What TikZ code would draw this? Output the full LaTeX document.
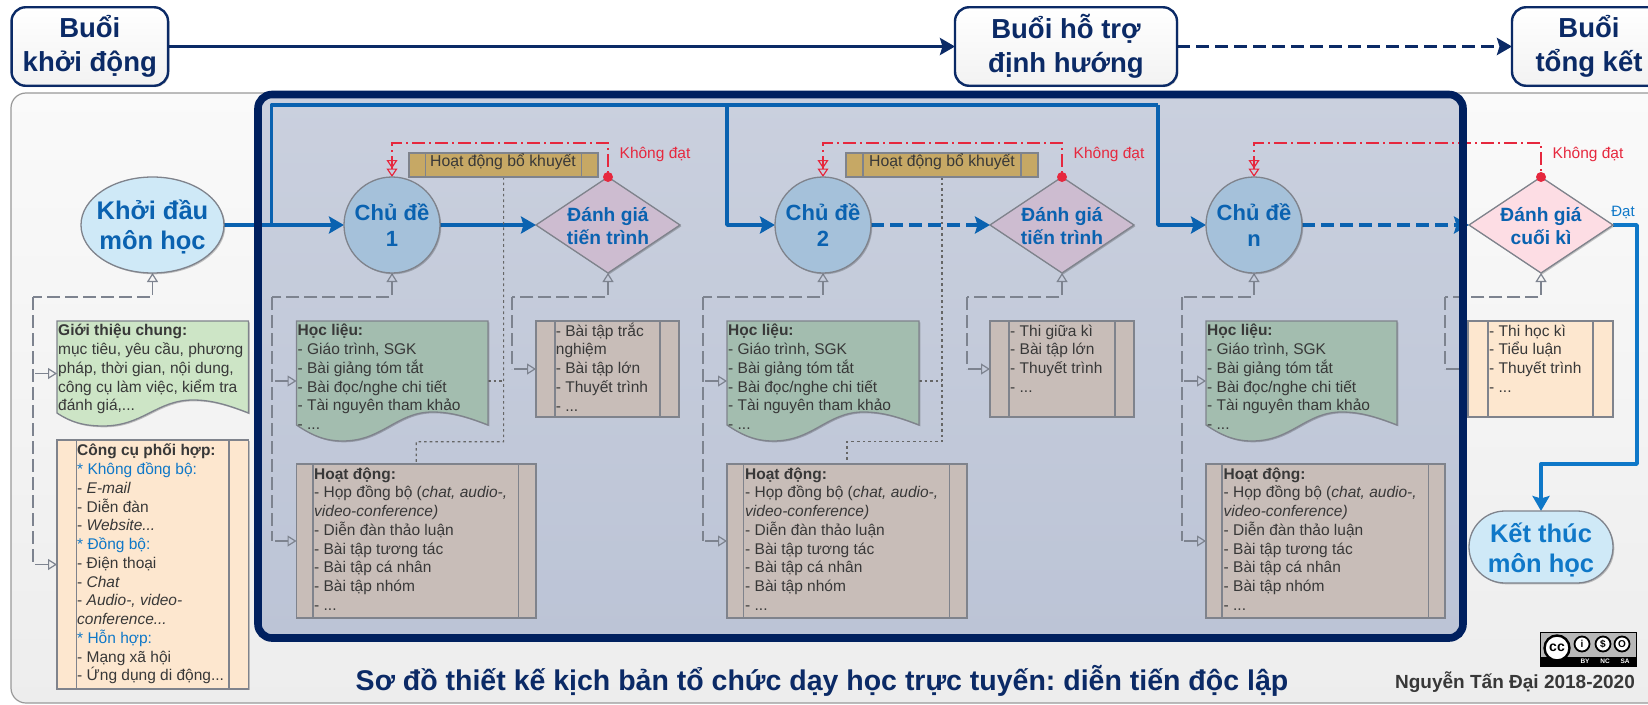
\documentclass[tikz,border=0pt]{standalone}
\usepackage{fontspec}
\setmainfont{Liberation Sans}
\frenchspacing
\usetikzlibrary{arrows.meta,shapes.geometric,shadows,calc}
\definecolor{navy}{HTML}{0B2A66}
\definecolor{framec}{HTML}{00205F}
\definecolor{frametop}{HTML}{CAD0DE}
\definecolor{framebot}{HTML}{BCC4D6}
\definecolor{mblue}{HTML}{0A62B0}
\definecolor{lblue}{HTML}{0F78C8}
\definecolor{txtc}{HTML}{383838}
\definecolor{graya}{HTML}{7D838F}
\definecolor{edgec}{HTML}{7F838C}
\definecolor{redc}{HTML}{E6283E}
\definecolor{fillbrown}{HTML}{C8BDB8}
\definecolor{fillorange}{HTML}{FDE7CF}
\definecolor{fillgreen}{HTML}{A3BDAF}
\definecolor{filllight}{HTML}{CDE5C6}
\definecolor{filltan}{HTML}{C6A865}
\definecolor{fillcirc}{HTML}{A5C1DA}
\definecolor{fillsky}{HTML}{CFE9F7}
\definecolor{fillpurp}{HTML}{CDBCD0}
\definecolor{fillpink}{HTML}{FDDDE4}
\pgfdeclarelayer{back}\pgfdeclarelayer{conn}\pgfdeclarelayer{frm}
\pgfsetlayers{back,conn,frm,main}
\newcommand\fstrut{\rule{0pt}{14pt}}
\newcommand\procb[8]{%
  \node[pbox,fill=#8,minimum width={(#4-#2)*1pt},minimum height={(#5-#3)*1pt}] (#1) at ({(#2+#4)/2},{(#3+#5)/2}) {};
  \draw[pline] (#6,#3)--(#6,#5) (#7,#3)--(#7,#5);}
% name,x1,y1,x2,edge y,fill,trough depth
\newcommand\docb[7]{%
  \pgfmathsetmacro\dw{#4-#2}
  \draw[nedge,fill=#6,sh] (#2,#3) -- (#4,#3) -- (#4,#5)
    .. controls ({#2+.88*\dw},{#5-9}) and ({#2+.8*\dw},{#5-13}) .. ({#2+.71*\dw},{#5-13})
    .. controls ({#2+.52*\dw},{#5-13}) and ({#2+.45*\dw},{#5+#7}) .. ({#2+.24*\dw},{#5+#7})
    .. controls ({#2+.14*\dw},{#5+#7}) and ({#2+.07*\dw},{#5+9}) .. (#2,#5) -- cycle;
  \node[inner sep=0pt,outer sep=0pt,minimum width={(#4-#2)*1pt},minimum height={(#5+#7-#3)*1pt}] (#1) at ({(#2+#4)/2},{(#3+#5+#7)/2}) {};}
% source, x of vertical, name of corner
\newcommand\gfeed[3]{%
  \coordinate (#3) at (#2,297);
  \begin{pgfonlayer}{conn}
  \draw[gline,opentip-] (#1.south) |- (#3);
  \end{pgfonlayer}}
\newcommand\gdown[2]{% corner, target
  \begin{pgfonlayer}{conn}
  \draw[gline] (#1) -- (#1 |- #2.west);
  \draw[gline,opentip-] (#2.west) -- (#1 |- #2.west);
  \end{pgfonlayer}}
\newcommand\gbranch[2]{%
  \begin{pgfonlayer}{conn}
  \draw[gline,opentip-] (#2.west) -- (#1 |- #2.west);
  \end{pgfonlayer}}
\newcommand\hoclieu[3]{%
  \node[txt] (#1) at (#2,#3) {\fstrut\textbf{Học liệu:}\\- Giáo trình, SGK\\- Bài giảng tóm tắt\\- Bài đọc/nghe chi tiết\\- Tài nguyên tham khảo\\- ...};}
\newcommand\hoatdong[3]{%
  \node[txt] (#1) at (#2,#3) {\fstrut\textbf{Hoạt động:}\\- Họp đồng bộ (\textit{chat, audio-,}\\\textit{video-conference)}\\- Diễn đàn thảo luận\\- Bài tập tương tác\\- Bài tập cá nhân\\- Bài tập nhóm\\- ...};}
\tikzset{
  x=1pt,y=-1pt,
  nedge/.style={draw=edgec,line width=1.3pt},
  sh/.style={drop shadow={shadow xshift=1.3pt,shadow yshift=-1.3pt,opacity=.22,fill=black}},
  pbox/.style={rectangle,nedge,inner sep=0pt,outer sep=0pt,sh},
  pline/.style={draw=edgec,line width=1.2pt},
  txt/.style={anchor=north west,inner sep=0pt,align=left,text=txtc,font=\fontsize{15.5}{18.75}\selectfont},
  topbox/.style={rectangle,draw=navy,line width=2.4pt,rounded corners=14pt,top color=white,bottom color=white!90!gray,inner sep=0pt,outer sep=0pt,text=navy,align=center,font=\bfseries\fontsize{27.5}{34}\selectfont,sh},
  circ/.style={circle,nedge,fill=fillcirc,minimum size=96pt,inner sep=0pt,outer sep=0pt,text=mblue,align=center,font=\bfseries\fontsize{22}{26.5}\selectfont,sh},
  dia/.style={diamond,nedge,minimum width=144pt,minimum height=96pt,inner sep=0pt,outer sep=0pt,sh},
  diat/.style={inner sep=0pt,align=center,text=mblue,font=\bfseries\fontsize{19.2}{23.4}\selectfont},
  bigt/.style={inner sep=0pt,align=center,text=mblue,font=\bfseries\fontsize{25.5}{30}\selectfont},
  bline/.style={draw=mblue,line width=3.6pt,line join=round},
  dsh/.style={dash pattern=on 12.5pt off 6.5pt},
  bhead/.style={-{Stealth[length=15pt,width=17pt,inset=2.5pt]}},
  gline/.style={draw=graya,line width=1.2pt,dash pattern=on 13pt off 5pt},
  opentip/.tip={Triangle[open,length=9pt,width=11pt,line width=1.2pt]},
  redtip/.tip={Triangle[open,length=8.5pt,width=11pt,line width=1.2pt,sep=0pt] Triangle[open,length=8.5pt,width=11pt,line width=1.2pt]},
  rline/.style={draw=redc,line width=1.1pt,dash pattern=on 13pt off 4pt on 2pt off 4pt},
  rdot/.style={circle,fill=redc,minimum size=10pt,inner sep=0pt,outer sep=0pt},
  dotl/.style={draw=black!60,line width=1.2pt,dash pattern=on 2.6pt off 3pt},
  redt/.style={inner sep=0pt,text=redc,font=\fontsize{15.5}{18}\selectfont},
}
\begin{document}
\begin{tikzpicture}
\frenchspacing
\useasboundingbox (0,0) rectangle (1648,704);
\clip (0,0) rectangle (1648,704);
\begin{pgfonlayer}{back}
  \fill[white] (0,0) rectangle (1648,704);
  \draw[draw=black!40,line width=1.2pt,rounded corners=15pt,top color=white!98!black,bottom color=white!93!black] (11,93) rectangle (1690,703);
  \fill[rounded corners=14pt,top color=frametop,bottom color=framebot] (258,94.5) rectangle (1463,638);
\end{pgfonlayer}
\begin{pgfonlayer}{frm}
  \draw[draw=framec,line width=7.6pt,rounded corners=14pt] (258,94.5) rectangle (1463,638);
\end{pgfonlayer}

% top row
\node[topbox,minimum width=156.5pt,minimum height=78.5pt] (b1) at (89.8,46.5) {Buổi\\khởi động};
\node[topbox,minimum width=222pt,minimum height=78.5pt] (b2) at (1066,46.5) {Buổi hỗ trợ\\định hướng};
\node[topbox,minimum width=160pt,minimum height=78.5pt] (b3) at (1592,46.5) {};
\node[inner sep=0pt,text=navy,align=center,font=\bfseries\fontsize{27.5}{34}\selectfont] (b3t) at (1589,46.5) {Buổi\\tổng kết};

% start / end
\node[ellipse,nedge,fill=fillsky,minimum width=143pt,minimum height=96pt,inner sep=0pt,outer sep=0pt,sh] (kd) at (152.5,225) {};
\node[bigt] (kdt) at (152.5,226.5) {Khởi đầu\\môn học};
\node[rectangle,nedge,fill=fillsky,rounded corners=36pt,minimum width=144pt,minimum height=72pt,inner sep=0pt,outer sep=0pt,sh] (kt) at (1541,547) {};
\node[bigt,text=lblue] (ktt) at (1541,550) {Kết thúc\\môn học};

% topics
\node[circ] (c1) at (392,225) {Chủ đề\\1};
\node[circ] (c2) at (823,225) {Chủ đề\\2};
\node[circ] (c3) at (1254,225) {Chủ đề\\n};

% diamonds
\node[dia,fill=fillpurp] (d1) at (608,225) {};
\node[diat] (d1t) at (608,226) {Đánh giá\\tiến trình};
\node[dia,fill=fillpurp] (d2) at (1062,225) {};
\node[diat] (d2t) at (1062,226) {Đánh giá\\tiến trình};
\node[dia,fill=fillpink] (d3) at (1541,225) {};
\node[diat] (d3t) at (1541,226) {Đánh giá\\cuối kì};

% remedial boxes
\procb{r1}{409}{153}{598}{177}{425.7}{581.7}{filltan}
\node[inner sep=0pt,text=txtc,font=\fontsize{15.8}{18}\selectfont] (r1t) at (503,162) {Hoạt động bổ khuyết};
\procb{r2}{846}{153}{1038}{177}{863}{1021}{filltan}
\node[inner sep=0pt,text=txtc,font=\fontsize{15.8}{18}\selectfont] (r2t) at (942,162) {Hoạt động bổ khuyết};

% documents
\docb{gt}{57}{321}{248.5}{413}{filllight}{13}
\node[txt] (gtt) at (58,321.7) {\fstrut\textbf{Giới thiệu chung:}\\mục tiêu, yêu cầu, phương\\pháp, thời gian, nội dung,\\công cụ làm việc, kiểm tra\\đánh giá,...};
\docb{hl1}{296.5}{321}{488}{425}{fillgreen}{16}
\hoclieu{hl1t}{297.5}{321.7}
\docb{hl2}{727}{321}{919}{425}{fillgreen}{16}
\hoclieu{hl2t}{728}{321.7}
\docb{hl3}{1206}{321}{1397}{425}{fillgreen}{16}
\hoclieu{hl3t}{1207}{321.7}

% process boxes
\procb{cc}{57}{440}{248.5}{689}{76.5}{229}{fillorange}
\node[txt] (cct) at (77,441.7) {\fstrut\textbf{Công cụ phối hợp:}\\\textcolor{lblue}{* Không đồng bộ:}\\- \textit{E-mail}\\- Diễn đàn\\- \textit{Website...}\\\textcolor{lblue}{* Đồng bộ:}\\- Điện thoại\\- \textit{Chat}\\- \textit{Audio-, video-}\\\textit{conference...}\\\textcolor{lblue}{* Hỗn hợp:}\\- Mạng xã hội\\- Ứng dụng di động...};
\procb{hd1}{296.5}{464}{536}{618}{313}{518.5}{fillbrown}
\hoatdong{hd1t}{314}{465}
\procb{hd2}{727}{464}{967}{618}{743.5}{949.5}{fillbrown}
\hoatdong{hd2t}{745}{465}
\procb{hd3}{1206}{464}{1445}{618}{1222}{1428.7}{fillbrown}
\hoatdong{hd3t}{1223.5}{465}
\procb{bt1}{536}{321}{679}{417}{555}{660}{fillbrown}
\node[txt] (bt1t) at (555.7,322) {\fstrut- Bài tập trắc\\nghiệm\\- Bài tập lớn\\- Thuyết trình\\- ...};
\procb{bt2}{990}{321}{1134}{417}{1009}{1115}{fillbrown}
\node[txt] (bt2t) at (1010,322) {\fstrut- Thi giữa kì\\- Bài tập lớn\\- Thuyết trình\\- ...};
\procb{bt3}{1468}{321}{1613}{417}{1488}{1593}{fillorange}
\node[txt] (bt3t) at (1489,322) {\fstrut- Thi học kì\\- Tiểu luận\\- Thuyết trình\\- ...};

% red dots and labels
\node[rdot] (rd1) at (d1.north) {};
\node[rdot] (rd2) at (d2.north) {};
\node[rdot] (rd3) at (d3.north) {};
\node[redt] (kd1) at (655,154) {Không đạt};
\node[redt] (kd2) at (1109,154) {Không đạt};
\node[redt] (kd3) at (1588,154) {Không đạt};
\node[inner sep=0pt,text=lblue,font=\fontsize{15}{18}\selectfont] (dat) at (1623,212) {Đạt};

% coordinates of bends
\coordinate (j1) at (271.5,225);
\coordinate (lt1) at (271.5,105);
\coordinate (lt2) at (727,105);
\coordinate (lt3) at (1158,105);
\coordinate (rl1) at (608,143);
\coordinate (rl2) at (1062,143);
\coordinate (rl3) at (1541,143);
\coordinate (e1) at (1637,225);
\coordinate (e2) at (1637,464);
\coordinate (e3) at (1541,464);
\coordinate (dt1) at (503.6,441.7);
\coordinate (dt2) at (942,441.7);
\coordinate (dl1) at (416.2,441.7);
\coordinate (dl2) at (847,441.7);

\begin{pgfonlayer}{conn}
  % top row
  \draw[draw=navy,line width=3.4pt,-{Stealth[length=15pt,width=17pt,inset=2.5pt]}] (b1.east) -- (b2.west);
  \draw[draw=navy,line width=3.4pt,dsh,-{Stealth[length=15pt,width=17pt,inset=2.5pt]}] (b2.east) -- (b3.west);
  % blue flow
  \draw[bline,bhead] (kd.east) -- (c1.west);
  \draw[bline] (j1) -- (lt1) -- (lt3);
  \draw[bline,bhead] (lt2) |- (c2.west);
  \draw[bline,bhead] (lt3) |- (c3.west);
  \draw[bline,bhead] (c1.east) -- (d1.west);
  \draw[bline,dsh,bhead] (c2.east) -- (d2.west);
  \draw[bline,dsh,bhead] (c3.east) -- (d3.west);
  \draw[draw=lblue,line width=3.4pt,line join=round,bhead] (d3.east) -- (e1) -- (e2) -- (e3) -- (kt.north);
  % red loops
  \draw[rline,redtip-] (c1.north) |- (rl1) -- (rd1.center);
  \draw[rline,redtip-] (c2.north) |- (rl2) -- (rd2.center);
  \draw[rline,redtip-] (c3.north) |- (rl3) -- (rd3.center);
  % dotted links
  \draw[dotl] (r1.south -| dt1) -- (dt1) -- (dl1) -- (hd1.north);
  \draw[dotl] (r2.south) -- (dt2) -- (dl2) -- (hd2.north);
  \draw[dotl] (hl1.east) -- (hl1.east -| dt1);
  \draw[dotl] (hl2.east) -- (hl2.east -| dt2);
\end{pgfonlayer}

% grey feeds
\gfeed{kd}{33}{k0}\gdown{k0}{cc}\gbranch{k0}{gt}
\gfeed{c1}{272}{k1}\gdown{k1}{hd1}\gbranch{k1}{hl1}
\gfeed{d1}{512}{k2}\gdown{k2}{bt1}
\gfeed{c2}{703}{k3}\gdown{k3}{hd2}\gbranch{k3}{hl2}
\gfeed{d2}{967}{k4}\gdown{k4}{bt2}
\gfeed{c3}{1182}{k5}\gdown{k5}{hd3}\gbranch{k5}{hl3}
\gfeed{d3}{1445}{k6}\gdown{k6}{bt3}

% title and credit
\node[inner sep=0pt,text=navy,font=\bfseries\fontsize{28.5}{32}\selectfont] (title) at (822,681) {Sơ đồ thiết kế kịch bản tổ chức dạy học trực tuyến: diễn tiến độc lập};
\node[inner sep=0pt,text=txtc,font=\bfseries\fontsize{19}{22}\selectfont] (credit) at (1515,682) {Nguyễn Tấn Đại 2018-2020};

% licence badge
\node[rectangle,draw=black,line width=1pt,fill=black!28,minimum width=96pt,minimum height=34pt,inner sep=0pt] (ccb) at (1588.5,649) {};
\fill[black] (1541,657) rectangle (1636,666);
\node[circle,draw=black,line width=2.4pt,fill=white,minimum size=25pt,inner sep=0pt,font=\bfseries\fontsize{14}{14}\selectfont] (cc1) at (1557,648) {cc};
\node[circle,draw=black,line width=1.8pt,fill=white,minimum size=15pt,inner sep=0pt,font=\bfseries\fontsize{10}{10}\selectfont] (cc2) at (1582,644) {i};
\node[circle,draw=black,line width=1.8pt,fill=white,minimum size=15pt,inner sep=0pt,font=\bfseries\fontsize{10}{10}\selectfont] (cc3) at (1603,644) {\$};
\node[circle,draw=black,line width=1.8pt,fill=white,minimum size=15pt,inner sep=0pt,font=\bfseries\fontsize{10}{10}\selectfont] (cc4) at (1622,644) {O};
\node[inner sep=0pt,text=white,font=\bfseries\fontsize{6.5}{7}\selectfont] (ccby) at (1585,661.5) {BY};
\node[inner sep=0pt,text=white,font=\bfseries\fontsize{6.5}{7}\selectfont] (ccnc) at (1605,661.5) {NC};
\node[inner sep=0pt,text=white,font=\bfseries\fontsize{6.5}{7}\selectfont] (ccsa) at (1625,661.5) {SA};
\end{tikzpicture}
\end{document}
